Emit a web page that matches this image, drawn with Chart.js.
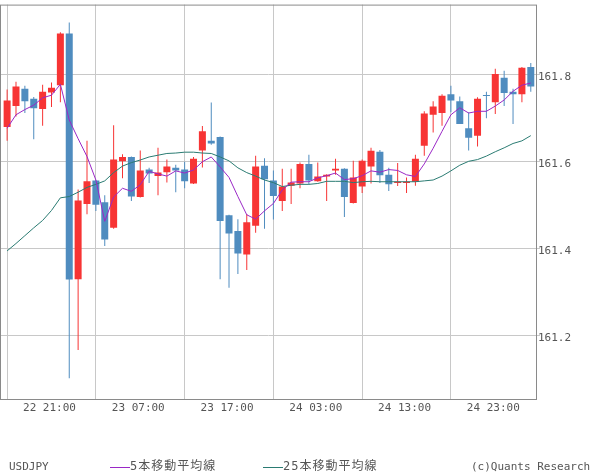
<!DOCTYPE html>
<html><head><meta charset="utf-8">
<script src="https://cdn.jsdelivr.net/npm/chart.js@4/dist/chart.umd.min.js"></script>
<style>
html,body{margin:0;padding:0;background:#fff;}
#wrap{position:relative;width:600px;height:475px;overflow:hidden;}
canvas{position:absolute;left:0;top:0;}
.t{position:absolute;font-family:"DejaVu Sans Mono",monospace;font-size:11px;color:#555;line-height:13px;white-space:nowrap;}
.lg{font-family:"DejaVu Sans Mono","Noto Sans CJK JP",monospace;font-size:12px;letter-spacing:1px;line-height:14px;}
.ln{position:absolute;height:1px;width:20px;}
</style></head>
<body><div id="wrap"><canvas id="c" width="600" height="475"></canvas>
<div class="t" style="left:9px;top:460px">USDJPY</div>
<div class="ln" id="l1" style="left:110px;top:467px"></div>
<div class="t lg" id="n1" style="left:130px;top:459px"></div>
<div class="ln" id="l2" style="left:263px;top:467px"></div>
<div class="t lg" id="n2" style="left:283px;top:459px"></div>
<div class="t" style="left:471px;top:460px">(c)Quants Research</div>
</div>
<script>
const opens = [161.680,161.728,161.768,161.745,161.721,161.759,161.776,161.895,161.330,161.503,161.557,161.507,161.448,161.601,161.611,161.519,161.582,161.567,161.576,161.586,161.582,161.550,161.626,161.648,161.657,161.477,161.441,161.387,161.453,161.591,161.557,161.510,161.545,161.550,161.595,161.555,161.566,161.580,161.584,161.505,161.543,161.589,161.623,161.570,161.551,161.551,161.554,161.637,161.708,161.712,161.755,161.739,161.677,161.660,161.753,161.737,161.793,161.761,161.755,161.818];
const highs = [161.766,161.784,161.775,161.749,161.777,161.782,161.898,161.920,161.536,161.648,161.558,161.523,161.684,161.617,161.612,161.626,161.586,161.632,161.605,161.593,161.600,161.611,161.682,161.736,161.658,161.478,161.468,161.480,161.614,161.608,161.580,161.584,161.584,161.598,161.616,161.598,161.571,161.607,161.585,161.602,161.605,161.632,161.627,161.586,161.597,161.564,161.616,161.716,161.739,161.755,161.775,161.750,161.714,161.748,161.761,161.814,161.809,161.768,161.818,161.827];
const lows = [161.648,161.704,161.712,161.652,161.683,161.726,161.737,161.102,161.167,161.479,161.487,161.406,161.446,161.562,161.510,161.518,161.551,161.523,161.552,161.530,161.539,161.549,161.587,161.639,161.330,161.310,161.342,161.351,161.437,161.446,161.467,161.487,161.503,161.539,161.548,161.554,161.510,161.570,161.473,161.504,161.528,161.550,161.551,161.533,161.544,161.528,161.545,161.614,161.667,161.683,161.714,161.687,161.626,161.635,161.700,161.710,161.728,161.687,161.737,161.761];
const closes = [161.741,161.773,161.739,161.723,161.761,161.770,161.895,161.329,161.511,161.555,161.501,161.421,161.605,161.611,161.520,161.580,161.573,161.575,161.589,161.580,161.555,161.607,161.670,161.642,161.464,161.435,161.389,161.461,161.589,161.560,161.521,161.543,161.552,161.595,161.557,161.566,161.570,161.584,161.519,161.564,161.602,161.625,161.569,161.548,161.554,161.554,161.607,161.711,161.727,161.752,161.741,161.687,161.655,161.745,161.751,161.802,161.758,161.755,161.816,161.773];
const ma5 = [161.677,161.708,161.720,161.730,161.747,161.753,161.778,161.696,161.653,161.612,161.558,161.463,161.519,161.539,161.532,161.547,161.578,161.572,161.567,161.579,161.574,161.581,161.600,161.611,161.588,161.564,161.520,161.478,161.468,161.487,161.504,161.535,161.553,161.554,161.554,161.563,161.568,161.574,161.559,161.561,161.568,161.579,161.576,161.582,161.580,161.570,161.566,161.595,161.631,161.670,161.708,161.724,161.712,161.716,161.716,161.728,161.742,161.762,161.776,161.781];
const ma25 = [161.395,161.412,161.430,161.448,161.465,161.488,161.517,161.520,161.530,161.541,161.548,161.556,161.575,161.590,161.598,161.604,161.611,161.615,161.619,161.620,161.622,161.622,161.620,161.619,161.611,161.602,161.586,161.575,161.567,161.558,161.552,161.543,161.546,161.548,161.548,161.550,161.555,161.555,161.555,161.552,161.554,161.555,161.554,161.554,161.554,161.554,161.554,161.556,161.558,161.567,161.579,161.592,161.601,161.605,161.613,161.623,161.632,161.642,161.648,161.660];
const tickIndex = [5,15,25,35,45,55];
const tickLabels = ['22 21:00','23 07:00','23 17:00','24 03:00','24 13:00','24 23:00'];
const yTicks = [161.2,161.4,161.6,161.8];
const seriesNames = ['5本移動平均線','25本移動平均線'];

const RED = '#f73434', BLUE = '#4f8cbf', PURPLE = '#9a28c6', TEAL = '#2a7b72';
const GRID = '#c8c8c8', FRAME = '#8a8a8a', TXT = '#555555';

document.getElementById('n1').textContent = seriesNames[0];
document.getElementById('n2').textContent = seriesNames[1];
document.getElementById('l1').style.background = PURPLE;
document.getElementById('l2').style.background = TEAL;

const candleColors = opens.map((o,i)=> closes[i] >= o ? RED : BLUE);

const framePlugin = {
  id:'frame',
  afterDraw(chart){
    const {ctx, chartArea:a} = chart;
    ctx.save();
    ctx.strokeStyle = FRAME; ctx.lineWidth = 1;
    ctx.strokeRect(a.left+0.5, a.top+0.5, a.right-a.left-1, a.bottom-a.top);
    ctx.restore();
  }
};

new Chart(document.getElementById('c'), {
  type:'bar',
  data:{
    datasets:[
      {type:'line', label:seriesNames[0], data: ma5.map((v,i)=>({x:i,y:v})), borderColor:PURPLE, borderWidth:1, pointRadius:0, tension:0},
      {type:'line', label:seriesNames[1], data: ma25.map((v,i)=>({x:i,y:v})), borderColor:TEAL, borderWidth:1, pointRadius:0, tension:0},
      {label:'body', data: opens.map((o,i)=>({x:i,y:[o,closes[i]]})), backgroundColor:candleColors, barThickness:7, grouped:false, minBarLength:1, borderWidth:0, inflateAmount:0},
      {label:'wick', data: lows.map((l,i)=>({x:i,y:[l,highs[i]]})), backgroundColor:candleColors, barThickness:1, grouped:false, borderWidth:0, inflateAmount:0}
    ]
  },
  options:{
    responsive:false, animation:false,
    layout:{padding:{left:0,top:0,right:0,bottom:45}},
    plugins:{legend:{display:false}, tooltip:{enabled:false}},
    scales:{
      x:{type:'linear', min:-0.802, max:59.70, offset:false,
        afterBuildTicks(s){ s.ticks = tickIndex.map(v=>({value:v})); },
        afterFit(s){ s.height = 31; },
        grid:{color:GRID, drawTicks:false},
        border:{display:false},
        ticks:{autoSkip:false, maxRotation:0, padding:3, labelOffset:-2, color:TXT,
          font:{family:'"DejaVu Sans Mono", monospace', size:11},
          callback:(v)=>{ const k = tickIndex.indexOf(v); return k>=0 ? tickLabels[k] : ''; }}
      },
      y:{position:'right', min:161.0545, max:161.9613,
        afterBuildTicks(s){ s.ticks = yTicks.map(v=>({value:v})); },
        afterFit(s){ s.width = 63; },
        grid:{color:GRID, drawTicks:true, tickLength:3, tickColor:GRID},
        border:{display:false},
        ticks:{padding:-2, labelOffset:2, color:TXT,
          font:{family:'"DejaVu Sans Mono", monospace', size:11},
          callback:(v)=>Number(v).toFixed(1)}
      }
    }
  },
  plugins:[framePlugin]
});
</script>
</body></html>
